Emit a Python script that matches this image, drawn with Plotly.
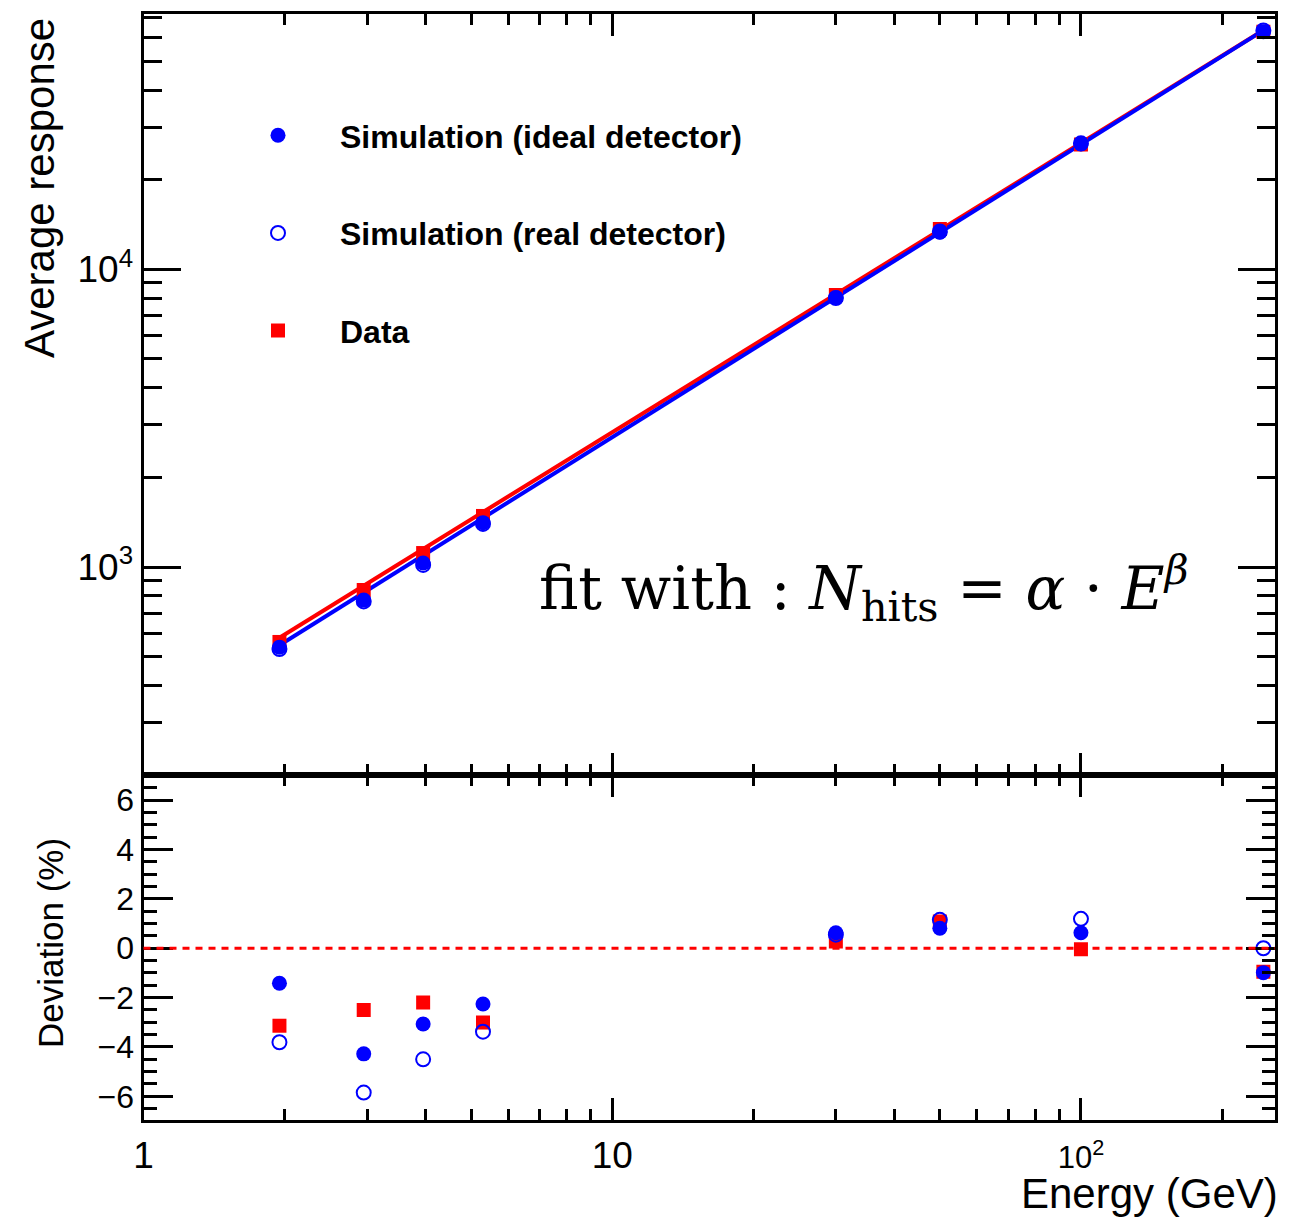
import numpy as np
import plotly.graph_objects as go

# ---------------- data ----------------
energy = [1.95, 2.95, 3.95, 5.3, 30, 50, 100, 245]            # GeV
resp_ideal = [538, 774, 1031, 1409, 8028, 13316, 26360, 62830]
resp_real = [530, 766, 1016, 1395, 8010, 13400, 26500, 63450]
resp_data = [560, 837, 1114, 1484, 8196, 13650, 26250, 62830]

dev_ideal = [-1.42, -4.28, -3.07, -2.26, 0.63, 0.81, 0.63, -0.99]
dev_real = [-3.81, -5.85, -4.50, -3.38, 0.55, 1.15, 1.19, 0.0]
dev_data = [-3.14, -2.50, -2.20, -3.01, 0.27, 1.08, -0.04, -0.95]

# power-law fit parameters N = alpha * E^beta
fit_ideal = {"alpha": 283.0, "beta": 0.984}
fit_data = {"alpha": 302.4, "beta": 0.972}

x_tickvals = [1, 10, 100]
x_ticktext = ['<span style="font-size:37px">1</span>',
              '<span style="font-size:37px">10</span>',
              '10<sup>2</sup>']
x_minor = [2, 3, 4, 5, 6, 7, 8, 9, 20, 30, 40, 50, 60, 70, 80, 90, 200]
y_tickvals = [1e3, 1e4]
y_ticktext = ['10<sup>3</sup>', '10<sup>4</sup>']
y_minor = [300, 400, 500, 600, 700, 800, 900,
           2000, 3000, 4000, 5000, 6000, 7000, 8000, 9000,
           20000, 30000, 40000, 50000, 60000, 70000]

BLUE = "#0000ff"
RED = "#ff0000"
W, H = 1312, 1217
FONT = "Liberation Sans, Arial, Helvetica, sans-serif"

fig = go.Figure()

e_line = np.geomspace(min(energy), max(energy), 50)
for fit, col in [(fit_data, RED), (fit_ideal, BLUE)]:
    fig.add_trace(go.Scatter(
        x=e_line, y=fit["alpha"] * e_line ** fit["beta"],
        mode="lines", line=dict(color=col, width=4),
        xaxis="x2", yaxis="y2", showlegend=False, hoverinfo="skip"))

# top panel markers
fig.add_trace(go.Scatter(x=energy, y=resp_data, mode="markers", name="Data",
                         legendrank=3, legendgroup="c",
                         marker=dict(symbol="square", size=14, color=RED),
                         xaxis="x2", yaxis="y2"))
fig.add_trace(go.Scatter(x=energy, y=resp_ideal, mode="markers",
                         name="Simulation (ideal detector)", legendrank=1, legendgroup="a",
                         marker=dict(symbol="circle", size=15, color=BLUE),
                         xaxis="x2", yaxis="y2"))
fig.add_trace(go.Scatter(x=energy, y=resp_real, mode="markers",
                         name="Simulation (real detector)", legendrank=2, legendgroup="b",
                         marker=dict(symbol="circle-open", size=14, color=BLUE,
                                     line=dict(width=2, color=BLUE)),
                         xaxis="x2", yaxis="y2"))

# bottom panel markers
fig.add_trace(go.Scatter(x=energy, y=dev_data, mode="markers", showlegend=False,
                         marker=dict(symbol="square", size=14, color=RED),
                         xaxis="x", yaxis="y"))
fig.add_trace(go.Scatter(x=energy, y=dev_ideal, mode="markers", showlegend=False,
                         marker=dict(symbol="circle", size=15, color=BLUE),
                         xaxis="x", yaxis="y"))
fig.add_trace(go.Scatter(x=energy, y=dev_real, mode="markers", showlegend=False,
                         marker=dict(symbol="circle-open", size=14, color=BLUE,
                                     line=dict(width=2, color=BLUE)),
                         xaxis="x", yaxis="y"))

x_dom = [143.5 / W, 1275 / W]
top_dom = [1 - 775 / H, 1 - 14 / H]
bot_dom = [1 - 1120 / H, 1 - 775 / H]
x_range = [0, 2.414]

common_axis = dict(showline=True, linewidth=3, linecolor="black", mirror="ticks",
                   ticks="inside", tickwidth=3, tickcolor="black",
                   showgrid=False, zeroline=False, automargin=False)

fig.update_layout(
    width=W, height=H,
    margin=dict(l=0, r=0, t=0, b=0),
    paper_bgcolor="white", plot_bgcolor="white",
    font=dict(family=FONT, color="black"),
    xaxis=dict(common_axis, type="log", range=x_range, domain=x_dom, anchor="y",
               tickmode="array", tickvals=x_tickvals, ticktext=x_ticktext,
               ticklen=22, tickfont=dict(size=31, family=FONT),
               ticklabelstandoff=8,
               minor=dict(tickmode="array", tickvals=x_minor, ticks="inside",
                          ticklen=11, tickwidth=3, tickcolor="black", showgrid=False)),
    xaxis2=dict(common_axis, type="log", range=x_range, domain=x_dom, anchor="y2",
                matches="x", showticklabels=False,
                tickmode="array", tickvals=x_tickvals, ticklen=22,
                minor=dict(tickmode="array", tickvals=x_minor, ticks="inside",
                           ticklen=11, tickwidth=3, tickcolor="black", showgrid=False)),
    yaxis=dict(common_axis, range=[-6.96, 7.02], domain=bot_dom, anchor="x",
               tickmode="linear", tick0=0, dtick=2, ticklen=29,
               tickfont=dict(size=32, family=FONT),
               minor=dict(tickmode="linear", tick0=0, dtick=0.5, ticks="inside",
                          ticklen=13, tickwidth=3, tickcolor="black", showgrid=False)),
    yaxis2=dict(common_axis, type="log", range=[2.3013, 4.8576], domain=top_dom, anchor="x2",
                tickmode="array", tickvals=y_tickvals, ticktext=y_ticktext, ticklen=37,
                tickfont=dict(size=37, family=FONT),
                minor=dict(tickmode="array", tickvals=y_minor, ticks="inside",
                           ticklen=18, tickwidth=3, tickcolor="black", showgrid=False)),
    legend=dict(x=216 / W, y=1 - 108 / H, xanchor="left", yanchor="top",
                bgcolor="rgba(0,0,0,0)", borderwidth=0,
                font=dict(size=32, family=FONT, weight="bold"),
                tracegroupgap=53, itemwidth=114, traceorder="grouped"),
    showlegend=True,
)

# dashed zero line in the deviation panel
fig.add_shape(type="line", xref="x domain", yref="y", x0=0, x1=1, y0=0, y1=0,
              line=dict(color=RED, width=3, dash="7px,6px"))

# axis titles & formula
fig.add_annotation(text="Average response", xref="paper", yref="paper",
                   x=40 / W, y=1 - 188 / H, textangle=-90, showarrow=False,
                   font=dict(size=42, family=FONT), xanchor="center", yanchor="middle")
fig.add_annotation(text="Deviation (%)", xref="paper", yref="paper",
                   x=50 / W, y=1 - 943 / H, textangle=-90, showarrow=False,
                   font=dict(size=35, family=FONT), xanchor="center", yanchor="middle")
fig.add_annotation(text="Energy (GeV)", xref="paper", yref="paper",
                   x=1280 / W, y=1 - 1193 / H, showarrow=False,
                   font=dict(size=42, family=FONT), xanchor="right", yanchor="middle")
fig.add_annotation(text="fit with : <i>N</i><sub>hits</sub> = <i>α</i> · <i>E</i><sup><i>β</i></sup>",
                   xref="paper", yref="paper",
                   x=864 / W, y=1 - 588 / H, showarrow=False,
                   font=dict(size=59, family="DejaVu Serif, Liberation Serif, serif"),
                   xanchor="center", yanchor="middle")

fig.write_html("out.html")
